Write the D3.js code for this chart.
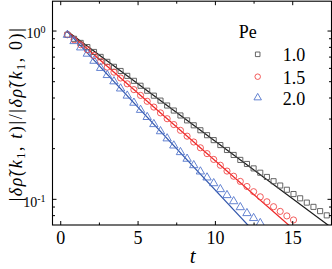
<!DOCTYPE html>
<html><head><meta charset="utf-8">
<script src="https://cdn.jsdelivr.net/npm/d3@7"></script>
<style>body{margin:0;background:#fff}svg{display:block}</style>
</head><body><svg id="c" width="332" height="269"></svg>
<script>
// ---- data ----
const times = [0.43,0.86,1.29,1.72,2.15,2.58,3.01,3.44,3.87,4.30,4.73,5.16,5.59,6.02,6.45,6.88,7.31,7.74,8.17,8.60,
  9.03,9.46,9.89,10.32,10.75,11.18,11.61,12.04,12.47,12.90,13.33,13.76,14.19,14.62,15.05,15.48,15.91,16.34,16.77,17.20];
const pe10Values = [0.951,0.899,0.850,0.803,0.751,0.702,0.656,0.613,0.579,0.5416,0.506,0.473,0.442,0.413,0.386,0.361,0.337,0.315,0.2945,0.2754,
  0.2573,0.2405,0.2248,0.2101,0.1964,0.1835,0.1715,0.1622,0.1527,0.1439,0.1358,0.1281,0.1208,0.1140,0.1075,0.1014,0.0956,0.0902,0.0851,0.0803];
const pe15Values = [0.950,0.887,0.829,0.774,0.715,0.660,0.610,0.5695,0.526,0.4857,0.4486,0.4144,0.3825,0.3533,0.3263,0.3013,0.2782,0.2570,0.2373,0.2191,
  0.2024,0.1869,0.1726,0.1594,0.1472,0.1372,0.1278,0.1192,0.1110,0.1035,0.0967,0.0904,0.0848,0.0797,0.0754];
const pe20Values = [0.948,0.870,0.798,0.7325,0.6648,0.6029,0.5468,0.5018,0.4550,0.4127,0.3745,0.3396,0.3081,0.2795,0.2535,0.2299,0.2086,0.1905,0.1740,0.1593,
  0.1462,0.1347,0.1245,0.1148,0.1058,0.0973,0.0897,0.0827,0.0773,0.0722];
const seriesLabels = ["1.0","1.5","2.0"];
const fitT = [[0.4,17.6],[0.4,15.2],[0.4,12.6]];
const fitValues = [[1.0,0.0669],[1.0,0.0646],[1.0,0.0628]];
const xMajorTicks = [0,5,10,15];
const xMinorTicks = [2.5,7.5,12.5];
const yMajorTicks = [1,0.1];
const yMajorExponents = ["0","-1"];
const yMinorTicks = [0.08,0.09,0.2,0.3,0.4,0.5,0.6,0.7,0.8,0.9];

// ---- layout / style ----
const FONT = "'Liberation Serif','Times New Roman',serif";
const L=52.5, R=331.5, T=1.2, B=225;
const svg = d3.select("#c");
const x = d3.scaleLinear().domain([-0.5,17.5]).range([53,331.4]);
const y = d3.scaleLog().domain([0.07,1.5]).range([225.4,1.4]);

const styles = [
  {line:"#1a1a1a", mark:"#555555", sym:d3.symbolSquare, size:26},
  {line:"#ee2222", mark:"#f04848", sym:d3.symbolCircle, size:30},
  {line:"#2f54aa", mark:"#5275cc", sym:d3.symbolTriangle, size:30}
];
const seriesValues = [pe10Values, pe15Values, pe20Values];

svg.append("defs").append("clipPath").attr("id","clip")
  .append("rect").attr("x",L).attr("y",T).attr("width",R-L).attr("height",B-T);

const plot = svg.append("g").attr("clip-path","url(#clip)");

// fit lines
const lineGen = d3.line().x(d=>x(d[0])).y(d=>y(d[1]));
fitT.forEach((ts,i)=>{
  plot.append("path").datum(ts.map((t,j)=>[t,fitValues[i][j]]))
    .attr("d",lineGen).attr("fill","none").attr("stroke",styles[i].line).attr("stroke-width",1.2);
});
// markers
seriesValues.forEach((vals,i)=>{
  const s = styles[i];
  const sym = d3.symbol().type(s.sym).size(s.size);
  plot.append("g").selectAll("path").data(vals).join("path")
    .attr("d",sym)
    .attr("transform",(v,k)=>`translate(${x(times[k])},${y(v)})`)
    .attr("fill","none").attr("stroke",s.mark).attr("stroke-width",0.9);
});

// frame
svg.append("rect").attr("x",L).attr("y",T).attr("width",R-L).attr("height",B-T)
  .attr("fill","none").attr("stroke","#000").attr("stroke-width",1.1);

// ticks (inward)
const tk = svg.append("g").attr("stroke","#000").attr("stroke-width",1);
xMajorTicks.forEach(v=>{
  tk.append("line").attr("x1",x(v)).attr("x2",x(v)).attr("y1",B).attr("y2",B-4);
  tk.append("line").attr("x1",x(v)).attr("x2",x(v)).attr("y1",T).attr("y2",T+4);
});
xMinorTicks.forEach(v=>{
  tk.append("line").attr("x1",x(v)).attr("x2",x(v)).attr("y1",B).attr("y2",B-2.5);
  tk.append("line").attr("x1",x(v)).attr("x2",x(v)).attr("y1",T).attr("y2",T+2.5);
});
yMajorTicks.forEach(v=>{
  tk.append("line").attr("x1",L).attr("x2",L+4).attr("y1",y(v)).attr("y2",y(v));
  tk.append("line").attr("x1",R).attr("x2",R-4).attr("y1",y(v)).attr("y2",y(v));
});
yMinorTicks.forEach(v=>{
  tk.append("line").attr("x1",L).attr("x2",L+2.5).attr("y1",y(v)).attr("y2",y(v));
  tk.append("line").attr("x1",R).attr("x2",R-2.5).attr("y1",y(v)).attr("y2",y(v));
});

// tick labels
xMajorTicks.forEach(v=>{
  svg.append("text").attr("x",x(v)).attr("y",244).attr("text-anchor","middle")
    .attr("font-family",FONT).attr("font-size",18).text(v);
});
yMajorTicks.forEach((v,i)=>{
  const t = svg.append("text").attr("x",45.5).attr("y",y(v)+7.4).attr("text-anchor","end")
    .attr("font-family",FONT).attr("font-size",14);
  t.append("tspan").text("10");
  t.append("tspan").attr("font-size",10).attr("dy",-5).text(yMajorExponents[i]);
});

// axis titles
svg.append("text").attr("x",192.7).attr("y",263).attr("text-anchor","middle")
  .attr("font-family",FONT).attr("font-size",21).attr("font-style","italic").text("t");

const yl = svg.append("text").attr("transform","translate(21.5,114) rotate(-90)")
  .attr("text-anchor","middle").attr("font-family",FONT).attr("font-size",18);
const parts = [
  ["|",null],["δρ̃(k","i"],["1","sub"],[",","up"],[" t","i"],[")|/|",null],["δρ̃(k","i"],["1","sub"],[",","up"],[" 0)|",null]
];
parts.forEach(([s,k])=>{
  const sp = yl.append("tspan").text(s);
  if(k==="i") sp.attr("font-style","italic");
  if(k==="sub") sp.attr("font-size",12).attr("dy",3.5);
  if(k==="up") sp.attr("dy",-3.5);
});
const len = yl.node().getComputedTextLength();
const nChars = yl.text().length;
const ls = Math.max(0,(178-len)/nChars);
yl.attr("letter-spacing", ls.toFixed(2));

// legend
svg.append("text").attr("x",238.7).attr("y",38.3).attr("font-family",FONT).attr("font-size",18).text("Pe");
const legY = [54.3,76.7,97.7];
seriesLabels.forEach((lab,i)=>{
  const s = styles[i];
  svg.append("path").attr("d",d3.symbol().type(s.sym).size(s.size*0.8)())
    .attr("transform",`translate(257.7,${legY[i]})`)
    .attr("fill","none").attr("stroke",s.mark).attr("stroke-width",0.9);
  svg.append("text").attr("x",282.7).attr("y",legY[i]+6.8).attr("font-family",FONT).attr("font-size",18).text(lab);
});
</script></body></html>
